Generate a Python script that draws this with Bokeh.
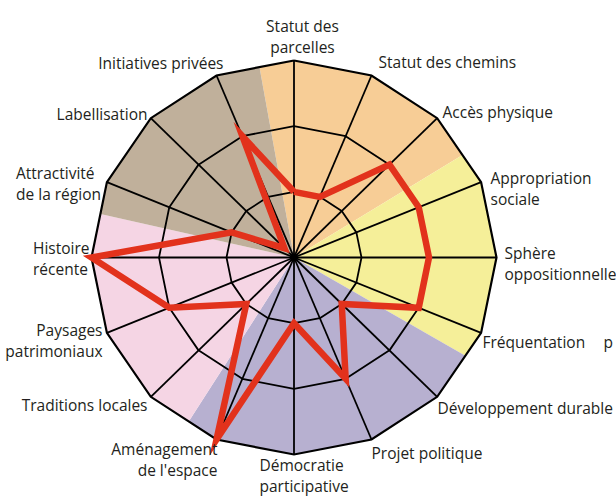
import numpy as np
from bokeh.plotting import figure
from bokeh.models import Range1d
from bokeh.embed import file_html
from bokeh.resources import INLINE
from bokeh.core.properties import value

# ---------------- data ----------------
categories = ["Statut des\nparcelles", "Statut des chemins", "Accès physique",
              "Appropriation\nsociale", "Sphère\noppositionnelle", "Fréquentation",
              "Développement durable", "Projet politique", "Démocratie\nparticipative",
              "Aménagement\nde l'espace", "Traditions locales", "Paysages\npatrimoniaux",
              "Histoire\nrécente", "Attractivité\nde la région", "Labellisation",
              "Initiatives privées"]
scores = [1, 1, 2, 2, 2, 2, 1, 2, 1, 3, 1, 2, 3, 1, 0.2, 2]
ring_levels = [1, 2, 3]
max_level = 3
# coloured thematic sectors: start angle (deg, clockwise from top)
sector_starts = [350, 58, 120.5, 212, 283]
sector_colors = ["#f7cd96", "#f5ef99", "#b7b0d0", "#f5d5e4", "#c0b09b"]
extra_text = "p"

# ---------------- layout ----------------
W, H = 616, 497
CX, CY = 293.5, 257.0          # centre in page pixels
RX, RY = 202.5, 197.0          # outer radius in pixels (x / y)
sx, sy = RX / max_level, RY / max_level
x0 = -CX / sx
x1 = x0 + W / sx
y1 = CY / sy
y0 = y1 - H / sy

def px_to_data(X, Y):
    return x0 + X / sx, y1 - Y / sy

p = figure(width=W, height=H, output_backend="svg", toolbar_location=None,
           x_range=Range1d(x0, x1), y_range=Range1d(y0, y1),
           min_border=0, outline_line_color=None, background_fill_color="white")
p.axis.visible = False
p.grid.visible = False

n = len(categories)
step = 360.0 / n
ang = np.deg2rad(np.arange(n) * step)

def polar(r, th):
    return r * np.sin(th), r * np.cos(th)

def boundary_r(theta_deg):
    t = theta_deg % step
    return max_level * np.cos(np.deg2rad(step / 2)) / np.cos(np.deg2rad(t - step / 2))

# sectors clipped to the outer polygon
for i, col in enumerate(sector_colors):
    a0 = sector_starts[i]
    a1 = sector_starts[(i + 1) % len(sector_starts)]
    if a1 <= a0:
        a1 += 360
    xs, ys = [0.0], [0.0]
    angles = [a0] + [k * step for k in range(int(np.ceil(a0 / step)), int(np.floor(a1 / step)) + 1)
                     if a0 < k * step < a1] + [a1]
    for a in angles:
        r = boundary_r(a)
        x, y = polar(r, np.deg2rad(a))
        xs.append(x); ys.append(y)
    p.patch(xs, ys, fill_color=col, line_color=None)

# rings
ring_xs, ring_ys = [], []
for lv in ring_levels:
    x, y = polar(lv, np.append(ang, ang[0]))
    ring_xs.append(list(x)); ring_ys.append(list(y))
p.multi_line(ring_xs[:-1], ring_ys[:-1], line_color="black", line_width=1.8)
p.multi_line(ring_xs[-1:], ring_ys[-1:], line_color="black", line_width=2.2, line_join="miter")

# spokes
ex, ey = polar(max_level, ang)
p.segment(x0=[0] * n, y0=[0] * n, x1=list(ex), y1=list(ey), line_color="black", line_width=1.8)
p.scatter([0], [0], size=7, color="black")

# data line
sc = np.array(scores + scores[:1], dtype=float)
dx, dy = polar(sc, np.append(ang, ang[0]))
p.line(list(dx), list(dy), line_color="#e2321c", line_width=6.5, line_join="miter")

# labels (page-pixel anchors, alignment)
label_layout = [
    (302, 36, "center"), (378, 61, "left"), (442, 111, "left"), (490, 188, "left"),
    (504, 263, "left"), (482, 341, "left"), (437, 407, "left"), (371, 452, "left"),
    (259, 475, "left"), (217, 459, "right"), (147, 404, "right"), (102, 340, "right"),
    (32.5, 258, "left"), (15.5, 183, "left"), (147, 113, "right"), (223, 62, "right"),
]
for txt, (X, Y, al) in zip(categories, label_layout):
    lx, ly = px_to_data(X, Y)
    p.text(x=[lx], y=[ly], text=[txt], text_align=al, text_baseline="middle",
           text_font=value("Open Sans"), text_font_size="15.5px", text_color="#231f20",
           text_line_height=0.98)
lx, ly = px_to_data(603, 341)
p.text(x=[lx], y=[ly], text=[extra_text], text_align="left", text_baseline="middle",
       text_font=value("Open Sans"), text_font_size="15.5px", text_color="#231f20")

open("out.html", "w").write(file_html(p, INLINE))
